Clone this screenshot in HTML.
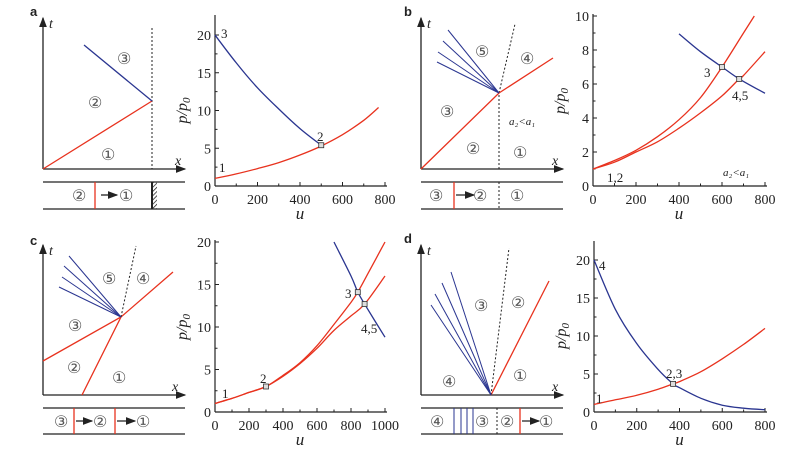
<!DOCTYPE html>
<html><head><meta charset="utf-8"><style>
body{margin:0;background:#fff;width:804px;height:471px;overflow:hidden}
svg text{font-family:"Liberation Serif","DejaVu Serif",serif}
.circ text{font-size:16px}
</style></head><body>
<svg id="fig" width="804" height="471" viewBox="0 0 804 471" xmlns="http://www.w3.org/2000/svg">
<defs><marker id="ar" markerWidth="8" markerHeight="6" refX="7" refY="3" orient="auto"><path d="M0,0L8,3L0,6z" fill="#222"/></marker>
<pattern id="hatch" width="3" height="3" patternUnits="userSpaceOnUse" patternTransform="rotate(45)"><line x1="0" y1="0" x2="0" y2="3" stroke="#222" stroke-width="1.5"/></pattern></defs>

<g fill="none" stroke-width="1.3">
<text x="30" y="16" font-weight="bold" font-size="13" fill="#222" stroke="none" style="font-family:'Liberation Sans',sans-serif">a</text>
<line x1="43" y1="169" x2="43" y2="18" stroke="#222" marker-end="url(#ar)"/>
<line x1="43" y1="169" x2="185" y2="169" stroke="#222" marker-end="url(#ar)"/>
<text x="49" y="28" font-style="italic" font-size="14" fill="#222" stroke="none">t</text>
<text x="175" y="165" font-style="italic" font-size="14" fill="#222" stroke="none">x</text>
<line x1="152" y1="28" x2="152" y2="169" stroke="#222" stroke-dasharray="2,2" stroke-width="1"/>
<line x1="43" y1="169" x2="152" y2="101" stroke="#e8321e"/>
<line x1="152" y1="101" x2="84" y2="45" stroke="#2a3590"/>
<g class="circ" fill="#555" stroke="none"><text x="117" y="64">③</text><text x="88" y="108">②</text><text x="101" y="160">①</text></g>
<line x1="43" y1="182" x2="185" y2="182" stroke="#222"/><line x1="43" y1="209" x2="185" y2="209" stroke="#222"/>
<line x1="95" y1="182" x2="95" y2="209" stroke="#e8321e"/>
<line x1="101" y1="195" x2="117" y2="195" stroke="#222" marker-end="url(#ar)"/>
<rect x="152" y="182" width="5" height="27" fill="url(#hatch)" stroke="none"/><line x1="152" y1="182" x2="152" y2="209" stroke="#222" stroke-width="2"/>
<g class="circ" fill="#555" stroke="none"><text x="72" y="201">②</text><text x="119" y="201">①</text></g>
</g>

<g fill="none" stroke-width="1.3">
<text x="404" y="16" font-weight="bold" font-size="13" fill="#222" stroke="none" style="font-family:'Liberation Sans',sans-serif">b</text>
<line x1="421" y1="169" x2="421" y2="18" stroke="#222" marker-end="url(#ar)"/>
<line x1="421" y1="169" x2="563" y2="169" stroke="#222" marker-end="url(#ar)"/>
<text x="427" y="28" font-style="italic" font-size="14" fill="#222" stroke="none">t</text>
<text x="552" y="165" font-style="italic" font-size="14" fill="#222" stroke="none">x</text>
<line x1="499" y1="169" x2="499" y2="93" stroke="#222" stroke-dasharray="2,2" stroke-width="1"/>
<line x1="499" y1="93" x2="515" y2="24" stroke="#222" stroke-dasharray="2,2" stroke-width="1"/>
<polyline points="421,169 499,93 553,58" stroke="#e8321e"/>
<g stroke="#2a3590" stroke-width="1"><line x1="499" y1="93" x2="448" y2="30"/><line x1="499" y1="93" x2="443" y2="41"/><line x1="499" y1="93" x2="438" y2="52"/><line x1="499" y1="93" x2="437" y2="62"/></g>
<g class="circ" fill="#555" stroke="none"><text x="475" y="57">⑤</text><text x="520" y="64">④</text><text x="440" y="117">③</text><text x="466" y="154">②</text><text x="513" y="158">①</text></g>
<text x="509" y="125" font-style="italic" font-size="11" fill="#222" stroke="none">a₂&lt;a₁</text>
<line x1="421" y1="182" x2="563" y2="182" stroke="#222"/><line x1="421" y1="209" x2="563" y2="209" stroke="#222"/>
<line x1="454" y1="182" x2="454" y2="209" stroke="#e8321e"/>
<line x1="456" y1="195" x2="474" y2="195" stroke="#222" marker-end="url(#ar)"/>
<line x1="499" y1="182" x2="499" y2="209" stroke="#222" stroke-dasharray="2,2" stroke-width="1"/>
<g class="circ" fill="#555" stroke="none"><text x="429" y="201">③</text><text x="473" y="201">②</text><text x="510" y="201">①</text></g>
</g>

<g fill="none" stroke-width="1.3">
<text x="30" y="245" font-weight="bold" font-size="13" fill="#222" stroke="none" style="font-family:'Liberation Sans',sans-serif">c</text>
<line x1="43" y1="395" x2="43" y2="245" stroke="#222" marker-end="url(#ar)"/>
<line x1="43" y1="395" x2="185" y2="395" stroke="#222" marker-end="url(#ar)"/>
<text x="49" y="255" font-style="italic" font-size="14" fill="#222" stroke="none">t</text>
<text x="172" y="391" font-style="italic" font-size="14" fill="#222" stroke="none">x</text>
<polyline points="43,361 121,317 173,272" stroke="#e8321e"/>
<line x1="82" y1="395" x2="121" y2="317" stroke="#e8321e"/>
<line x1="121" y1="317" x2="136" y2="246" stroke="#222" stroke-dasharray="2,2" stroke-width="1"/>
<g stroke="#2a3590" stroke-width="1"><line x1="121" y1="317" x2="69" y2="256"/><line x1="121" y1="317" x2="64" y2="266"/><line x1="121" y1="317" x2="62" y2="277"/><line x1="121" y1="317" x2="59" y2="287"/></g>
<g class="circ" fill="#555" stroke="none"><text x="102" y="284">⑤</text><text x="136" y="284">④</text><text x="68" y="331">③</text><text x="67" y="373">②</text><text x="112" y="383">①</text></g>
<line x1="43" y1="408" x2="185" y2="408" stroke="#222"/><line x1="43" y1="434" x2="185" y2="434" stroke="#222"/>
<line x1="74" y1="408" x2="74" y2="434" stroke="#e8321e"/><line x1="115" y1="408" x2="115" y2="434" stroke="#e8321e"/>
<line x1="76" y1="421" x2="92" y2="421" stroke="#222" marker-end="url(#ar)"/>
<line x1="117" y1="421" x2="135" y2="421" stroke="#222" marker-end="url(#ar)"/>
<g class="circ" fill="#555" stroke="none"><text x="54" y="427">③</text><text x="93" y="427">②</text><text x="136" y="427">①</text></g>
</g>

<g fill="none" stroke-width="1.3">
<text x="404" y="243" font-weight="bold" font-size="13" fill="#222" stroke="none" style="font-family:'Liberation Sans',sans-serif">d</text>
<line x1="421" y1="395" x2="421" y2="245" stroke="#222" marker-end="url(#ar)"/>
<line x1="421" y1="395" x2="563" y2="395" stroke="#222" marker-end="url(#ar)"/>
<text x="427" y="255" font-style="italic" font-size="14" fill="#222" stroke="none">t</text>
<text x="552" y="391" font-style="italic" font-size="14" fill="#222" stroke="none">x</text>
<line x1="491" y1="395" x2="549" y2="281" stroke="#e8321e"/>
<line x1="491" y1="395" x2="509" y2="248" stroke="#222" stroke-dasharray="2,2" stroke-width="1"/>
<g stroke="#2a3590" stroke-width="1"><line x1="491" y1="395" x2="451" y2="272"/><line x1="491" y1="395" x2="442" y2="283"/><line x1="491" y1="395" x2="435" y2="294"/><line x1="491" y1="395" x2="431" y2="305"/></g>
<g class="circ" fill="#555" stroke="none"><text x="474" y="311">③</text><text x="511" y="308">②</text><text x="442" y="387">④</text><text x="513" y="381">①</text></g>
<line x1="421" y1="408" x2="563" y2="408" stroke="#222"/><line x1="421" y1="434" x2="563" y2="434" stroke="#222"/>
<g stroke="#2a3590" stroke-width="1"><line x1="454" y1="408" x2="454" y2="434"/><line x1="461" y1="408" x2="461" y2="434"/><line x1="467" y1="408" x2="467" y2="434"/><line x1="473" y1="408" x2="473" y2="434"/></g>
<line x1="497" y1="408" x2="497" y2="434" stroke="#222" stroke-dasharray="2,2" stroke-width="1"/>
<line x1="520" y1="408" x2="520" y2="434" stroke="#e8321e"/>
<line x1="522" y1="421" x2="539" y2="421" stroke="#222" marker-end="url(#ar)"/>
<g class="circ" fill="#555" stroke="none"><text x="430" y="427">④</text><text x="475" y="427">③</text><text x="500" y="427">②</text><text x="539" y="427">①</text></g>
</g>
<g id="charts"></g>
</svg>
<script>
// Chart a
const aU_red=[0,100,200,300,400,500,600,700,770];
const aP_red=[1,1.6,2.3,3.1,4.1,5.3,6.8,8.7,10.4];
const aU_blue=[0,100,200,300,400,500];
const aP_blue=[20,16.3,13,10.2,7.6,5.4];
// Chart b
const bU_red1=[0,100,200,300,400,500,600,700,750];
const bP_red1=[1,1.5,2.1,2.9,3.9,5.2,7,9,10];
const bU_red2=[0,100,200,300,400,500,600,680,700,800];
const bP_red2=[1,1.4,2,2.6,3.4,4.3,5.3,6.3,6.5,7.9];
const bU_blue=[400,500,600,680,800];
const bP_blue=[8.95,7.9,7,6.3,5.45];
// Chart c
const cU_red1=[0,100,200,300,400,500,600,700,800,840,900,1000];
const cP_red1=[1,1.6,2.3,3,4.3,5.8,7.8,10.3,12.9,14.1,16.3,20];
const cU_red2=[0,100,200,300,400,500,600,700,800,880,1000];
const cP_red2=[1,1.6,2.3,3,4.2,5.7,7.5,9.6,11.3,12.7,16];
const cU_blue=[700,800,840,880,1000];
const cP_blue=[20,16,14.1,12.7,8.8];
// Chart d
const dU_red=[0,100,200,300,370,400,500,600,700,800];
const dP_red=[1,1.6,2.2,3,3.7,4,5.3,7,8.9,11];
const dU_blue=[0,100,200,300,370,400,500,600,700,800];
const dP_blue=[20,13.5,9,5.6,3.7,3.2,1.8,0.9,0.5,0.3];
// ticks
const aXTicks=[0,200,400,600,800], aYTicks=[0,5,10,15,20];
const bXTicks=[0,200,400,600,800], bYTicks=[0,2,4,6,8,10];
const cXTicks=[0,200,400,600,800,1000], cYTicks=[0,5,10,15,20];
const dXTicks=[0,200,400,600,800], dYTicks=[0,5,10,15,20];

const NS='http://www.w3.org/2000/svg';
const root=document.getElementById('charts');
function mk(tag,attrs,parent){const e=document.createElementNS(NS,tag);for(const k in attrs)e.setAttribute(k,attrs[k]);parent.appendChild(e);return e;}
function smooth(P){
  let d='M'+P[0][0].toFixed(1)+','+P[0][1].toFixed(1);
  for(let i=0;i<P.length-1;i++){
    const p0=P[i-1]||P[i],p1=P[i],p2=P[i+1],p3=P[i+2]||P[i+1];
    const c1x=p1[0]+(p2[0]-p0[0])/6,c1y=p1[1]+(p2[1]-p0[1])/6;
    const c2x=p2[0]-(p3[0]-p1[0])/6,c2y=p2[1]-(p3[1]-p1[1])/6;
    d+=` C${c1x.toFixed(1)},${c1y.toFixed(1)} ${c2x.toFixed(1)},${c2y.toFixed(1)} ${p2[0].toFixed(1)},${p2[1].toFixed(1)}`;
  }
  return d;
}
function chart(id,cfg){
  const g=mk('g',{},root);
  
  
  const sx=u=>cfg.x0+(u-cfg.xmin)/(cfg.xmax-cfg.xmin)*(cfg.x1-cfg.x0);
  const sy=p=>cfg.y0-(p-cfg.ymin)/(cfg.ymax-cfg.ymin)*(cfg.y0-cfg.y1);
  const axY=mk('line',{x1:cfg.x0,y1:cfg.y0,x2:cfg.x0,y2:cfg.ytop,stroke:'#222','stroke-width':1.2},g);
  
  
  const axX=mk('line',{x1:cfg.x0,y1:cfg.y0,x2:cfg.x1+2,y2:cfg.y0,stroke:'#222','stroke-width':1.2},g);
  
  
  const xs=cfg.xt, ys=cfg.yt;
  for(let i=0;i<xs.length;i++){
    const X=sx(xs[i]);
    mk('line',{x1:X,y1:cfg.y0,x2:X,y2:cfg.y0-4,stroke:'#222'},g);
    if(i<xs.length-1){const m=sx((xs[i]+xs[i+1])/2);mk('line',{x1:m,y1:cfg.y0,x2:m,y2:cfg.y0-2.5,stroke:'#222'},g);}
    const t=mk('text',{x:X,y:cfg.y0+18,'text-anchor':'middle','font-size':14,fill:'#222'},g);
    t.textContent=xs[i];
    
    
  }
  for(let i=0;i<ys.length;i++){
    const Y=sy(ys[i]);
    mk('line',{x1:cfg.x0,y1:Y,x2:cfg.x0+4,y2:Y,stroke:'#222'},g);
    if(i<ys.length-1){const m=sy((ys[i]+ys[i+1])/2);mk('line',{x1:cfg.x0,y1:m,x2:cfg.x0+2.5,y2:m,stroke:'#222'},g);}
    const t=mk('text',{x:cfg.x0-4,y:Y+5,'text-anchor':'end','font-size':14,fill:'#222'},g);
    t.textContent=ys[i];
    
    
  }
  const xl=mk('text',{x:(cfg.x0+cfg.x1)/2,y:cfg.y0+33,'text-anchor':'middle','font-size':17,'font-style':'italic',fill:'#222'},g);
  xl.textContent='u';
  
  
  const yl=mk('text',{x:0,y:0,'text-anchor':'middle','font-size':16,'font-style':'italic',fill:'#222',transform:`translate(${cfg.x0-28},${(cfg.y0+cfg.y1)/2}) rotate(-90)`},g);
  yl.innerHTML='p/p<tspan font-size="11" dy="3">0</tspan>';
  
  
  cfg.series.forEach(s=>{
    const P=s.u.map((u,i)=>[sx(u),sy(s.p[i])]);
    const pl=mk('path',{d:smooth(P),fill:'none',stroke:s.c,'stroke-width':1.3},g);
    
    
  });
  cfg.marks.forEach(m=>{
    const c=mk('rect',{x:sx(m[0])-2.5,y:sy(m[1])-2.5,width:5,height:5,fill:'#ddd',stroke:'#333','stroke-width':0.8},g);
    
    
  });
  cfg.labels.forEach(l=>{
    const t=mk('text',{x:l[0],y:l[1],'font-size':l[3]||13,'font-style':l[4]||'normal',fill:'#222'},g);
    t.innerHTML=l[2];
    
    
  });
}
const R='#e8321e',B='#2a3590';
chart('chart-a',{x0:215,x1:385,y0:186,y1:35,ytop:15,xmin:0,xmax:800,ymin:0,ymax:20,xt:aXTicks,yt:aYTicks,
  series:[{u:aU_red,p:aP_red,c:R,n:'red-curve-a'},{u:aU_blue,p:aP_blue,c:B,n:'blue-curve-a'}],
  marks:[[500,5.4]],labels:[[221,38,'3'],[317,141,'2'],[219,172,'1']]});
chart('chart-b',{x0:593,x1:765,y0:186,y1:16,ytop:14,xmin:0,xmax:800,ymin:0,ymax:10,xt:bXTicks,yt:bYTicks,
  series:[{u:bU_red1,p:bP_red1,c:R,n:'red-curve-b-upper'},{u:bU_red2,p:bP_red2,c:R,n:'red-curve-b-lower'},{u:bU_blue,p:bP_blue,c:B,n:'blue-curve-b'}],
  marks:[[600,7],[680,6.3]],labels:[[704,77,'3'],[732,100,'4,5'],[607,182,'1,2'],[723,176,'a₂&lt;a₁',11,'italic']]});
chart('chart-c',{x0:215,x1:385,y0:412,y1:242,ytop:240,xmin:0,xmax:1000,ymin:0,ymax:20,xt:cXTicks,yt:cYTicks,
  series:[{u:cU_red1,p:cP_red1,c:R,n:'red-curve-c-upper'},{u:cU_red2,p:cP_red2,c:R,n:'red-curve-c-lower'},{u:cU_blue,p:cP_blue,c:B,n:'blue-curve-c'}],
  marks:[[300,3],[840,14.1],[880,12.7]],labels:[[222,398,'1'],[260,383,'2'],[345,298,'3'],[361,333,'4,5']]});
chart('chart-d',{x0:594,x1:765,y0:412,y1:260,ytop:241,xmin:0,xmax:800,ymin:0,ymax:20,xt:dXTicks,yt:dYTicks,
  series:[{u:dU_red,p:dP_red,c:R,n:'red-curve-d'},{u:dU_blue,p:dP_blue,c:B,n:'blue-curve-d'}],
  marks:[[370,3.7]],labels:[[599,270,'4'],[666,378,'2,3'],[596,403,'1']]});
</script>
</body></html>
